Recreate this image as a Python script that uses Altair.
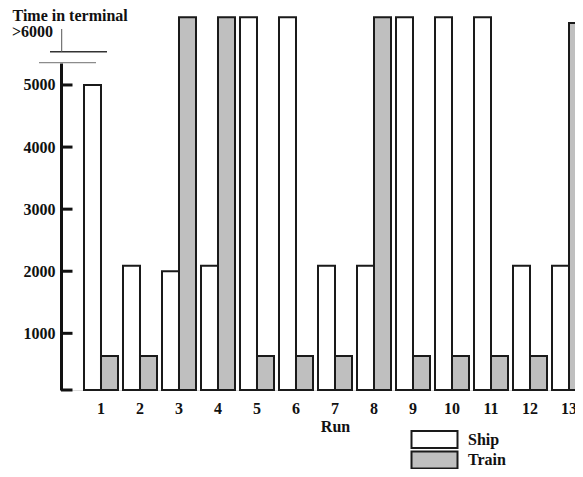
import altair as alt
import pandas as pd

runs = [str(i) for i in range(1, 14)]
series_names = ["Ship", "Train"]
ship = [5000, 2090, 2000, 2090, 6090, 6090, 2090, 2090, 6090, 6090, 6090, 2090, 2090]
train = [635, 635, 6090, 6090, 635, 635, 635, 6090, 635, 635, 635, 635, 6000]
y_ticks = [1000, 2000, 3000, 4000, 5000]
y_title = "Time in terminal"
y_break_label = ">6000"
x_title = "Run"

Y_MIN, Y_MAX = 87, 5354
FONT = "Liberation Serif"
GRAY = "#bfbfbf"
INK = "#1a1a1a"

rows = []
for i, r in enumerate(runs):
    rows.append({"run": r, "series": "Ship", "value": ship[i]})
    rows.append({"run": r, "series": "Train", "value": train[i]})
df = pd.DataFrame(rows)

yscale = alt.Scale(domain=[Y_MIN, Y_MAX], zero=False, nice=False)

one = pd.DataFrame({"a": [0]})
# white strip hiding the faint frame edge at the top of the plot area
cover = alt.Chart(one).mark_rect(color="white").encode(
    x=alt.value(2), x2=alt.value("width"), y=alt.value(-2), y2=alt.value(2))

bars = alt.Chart(df).mark_bar(stroke=INK, strokeWidth=2, clip=False).encode(
    x=alt.X("run:N", sort=runs,
            scale=alt.Scale(range=[0, 548], paddingInner=0.1282, paddingOuter=0.5897),
            axis=alt.Axis(title=x_title, labelAngle=0, domain=False, ticks=False,
                          grid=False, labelPadding=10, titlePadding=2,
                          labelFont=FONT, labelFontSize=16, labelFontWeight="bold",
                          labelColor="#111",
                          titleFont=FONT, titleFontSize=16, titleFontWeight="bold",
                          titleColor="#111")),
    xOffset=alt.XOffset("series:N", sort=series_names,
                        scale=alt.Scale(paddingInner=0, paddingOuter=0)),
    y=alt.Y("value:Q", scale=yscale,
            axis=alt.Axis(title=None, values=y_ticks, format="d", ticks=False, grid=False,
                          domainColor="#111", domainWidth=3, labelPadding=6,
                          labelFont=FONT, labelFontSize=16, labelFontWeight="bold",
                          labelColor="#111")),
    y2=alt.Y2(datum=Y_MIN),
    fill=alt.Fill("series:N", sort=series_names,
                  scale=alt.Scale(domain=series_names, range=["white", GRAY]),
                  legend=None),
)

tick_df = pd.DataFrame({"v": [Y_MIN] + y_ticks})
ticks = alt.Chart(tick_df).mark_rule(color="#111", strokeWidth=3).encode(
    y=alt.Y("v:Q", scale=yscale, axis=None),
    x=alt.value(0),
    x2=alt.value(11.5),
)

break_gray = alt.Chart(one).mark_rect(color="#8c8c8c").encode(
    x=alt.value(-22), x2=alt.value(35), y=alt.value(-1.1), y2=alt.value(0.3))
break_dark = alt.Chart(one).mark_rect(color="#333").encode(
    x=alt.value(-11), x2=alt.value(46), y=alt.value(-12), y2=alt.value(-10.6))
break_vert = alt.Chart(one).mark_rect(color="#555").encode(
    x=alt.value(0.2), x2=alt.value(1.2), y=alt.value(-34), y2=alt.value(-11))

title1 = alt.Chart(pd.DataFrame({"t": [y_title]})).mark_text(
    align="left", baseline="alphabetic", font=FONT, fontSize=16, fontWeight="bold",
    color="#111").encode(text="t:N", x=alt.value(-48.5), y=alt.value(-42.3))
title2 = alt.Chart(pd.DataFrame({"t": [y_break_label]})).mark_text(
    align="left", baseline="alphabetic", font=FONT, fontSize=16, fontWeight="bold",
    color="#111").encode(text="t:N", x=alt.value(-49), y=alt.value(-26))

leg_df = pd.DataFrame({"series": series_names})
leg_scale = alt.Scale(domain=series_names, range=[376.5, 397], padding=0)
leg_sym = alt.Chart(leg_df).mark_point(
    shape="M-1,-0.37H1V0.37H-1Z", size=2116, filled=True, stroke=INK,
    strokeWidth=2, opacity=1).encode(
    x=alt.value(373.5),
    y=alt.Y("series:N", scale=leg_scale, axis=None),
    fill=alt.Fill("series:N", scale=alt.Scale(domain=series_names, range=["white", GRAY]),
                  legend=None),
)
leg_txt = alt.Chart(leg_df).mark_text(
    align="left", baseline="middle", font=FONT, fontSize=16, fontWeight="bold",
    color="#111").encode(
    x=alt.value(407),
    y=alt.Y("series:N", scale=leg_scale, axis=None),
    text="series:N",
)

chart = alt.layer(
    cover, bars, ticks, break_gray, break_dark, break_vert, title1, title2, leg_sym, leg_txt
).resolve_scale(y="independent", fill="independent").properties(
    width=514, height=327,
    autosize=alt.AutoSizeParams(type="none"),
    padding={"left": 53, "top": 55, "right": 0, "bottom": 79},
).configure_view(stroke="transparent", strokeWidth=0).configure_axis(grid=False).configure(
    background="white")

chart.save("out.html", embed_options={"renderer": "svg", "actions": False})
